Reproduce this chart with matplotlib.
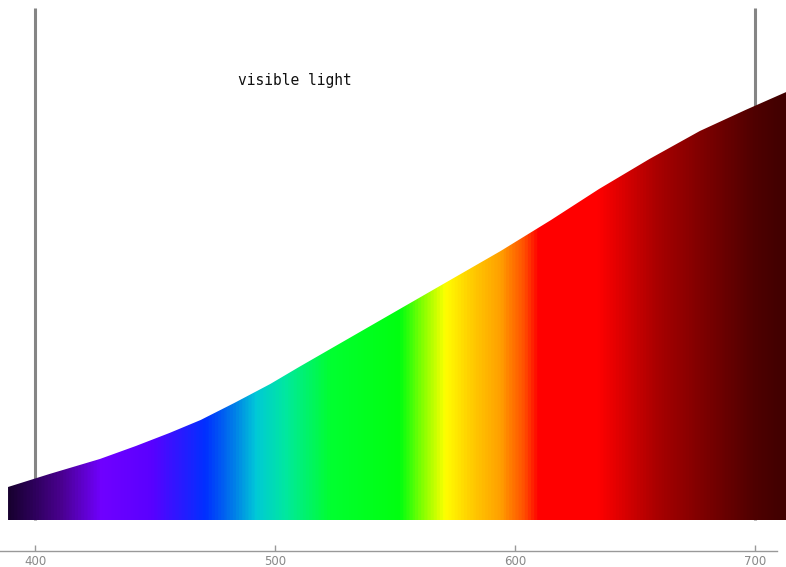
import numpy as np
import matplotlib
matplotlib.use("Agg")
import matplotlib.pyplot as plt
from matplotlib.colors import LinearSegmentedColormap, to_rgb

# Curve (wavelength nm -> relative intensity)
wavelengths = [388.75, 406, 427, 442, 456, 469, 483, 498, 510, 531, 552, 573, 594,
               615, 635, 656, 677, 696, 713]
intensity = [33, 46, 61, 74, 87, 100, 117, 136, 153, 182, 211, 240, 269,
             300, 331, 361, 389, 410, 428]

# Spectrum colour stops
stop_wl = [388.75, 400, 410.4, 427, 448, 470.8, 483, 491.7, 504, 523, 552, 562.5, 571, 581,
           594, 604, 610, 635, 660, 685, 700, 713]
stop_col = ["#180030", "#300060", "#4a0090", "#7000ff", "#5a00ff", "#0030ff", "#0080e8",
            "#00c8d8", "#00e8a0", "#00ff30", "#00ff10", "#90ff00", "#ffff00", "#ffd000",
            "#ffa000", "#ff5000", "#ff0000", "#ff0000", "#a80000", "#700000", "#500000", "#400000"]

marker_wl = [400, 700]
tick_vals = [400, 500, 600, 700]
tick_labels = ["400", "500", "600", "700"]
label_text = "visible light"

W, H = 786, 567
fig = plt.figure(figsize=(W / 100, H / 100), dpi=100)
ax = fig.add_axes([0, (H - 551) / H, 1, 551 / H])
ax.set_xlim(385.4, 712.9)
ax.set_ylim(-31, 520)

# vertical markers (behind spectrum)
for w in marker_wl:
    ax.vlines(w, 0, 512, colors="#858585", linewidth=2.2, zorder=1)

# gradient fill under curve
lo, hi = stop_wl[0], stop_wl[-1]
cmap = LinearSegmentedColormap.from_list(
    "spec", [((s - lo) / (hi - lo), to_rgb(c)) for s, c in zip(stop_wl, stop_col)])
grad = np.linspace(0, 1, 1000).reshape(1, -1)
im = ax.imshow(grad, cmap=cmap, aspect="auto", extent=(lo, hi, 0, 520),
               origin="lower", zorder=2, interpolation="bilinear")
poly = ax.fill(list(wavelengths) + [wavelengths[-1], wavelengths[0]],
               list(intensity) + [0, 0],
               facecolor="none", edgecolor="none")[0]
im.set_clip_path(poly)

ax.text(508.3, 440, label_text, ha="center", va="center", fontsize=10.5,
        color="#111111", family="DejaVu Sans Mono", zorder=3)

for s in ["top", "left", "right"]:
    ax.spines[s].set_visible(False)
ax.spines["bottom"].set_color("#999999")
ax.spines["bottom"].set_linewidth(1.0)
ax.spines["bottom"].set_bounds(385.4, 709.2)
ax.set_yticks([])
ax.set_xticks(tick_vals)
ax.set_xticklabels(tick_labels)
ax.tick_params(axis="x", direction="in", length=4, width=1, colors="#999999",
               labelcolor="#888888", labelsize=8.5, pad=3)

fig.savefig("out.png", dpi=100)
